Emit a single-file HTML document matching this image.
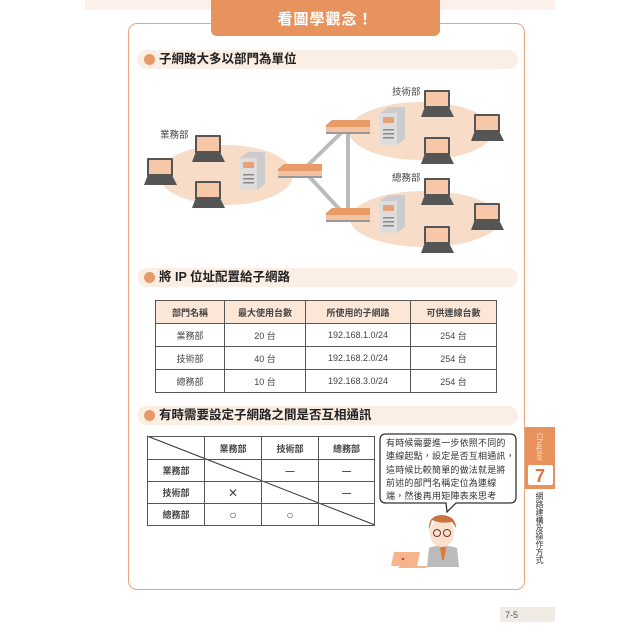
<!DOCTYPE html>
<html><head><meta charset="utf-8"><style>
*{margin:0;padding:0;box-sizing:border-box}
body{width:640px;height:640px;background:#fff;position:relative;overflow:hidden;font-family:"Liberation Sans","Noto Sans CJK TC",sans-serif;color:#333}
.a{position:absolute}
.sec{position:absolute;left:137px;width:381px;height:19px;background:#fbeee4;border-radius:10px;font-size:12.5px;font-weight:bold;line-height:19px;padding-left:22px;color:#222}
.sec:before{content:"";position:absolute;left:7px;top:4px;width:11px;height:11px;border-radius:50%;background:#e89a67}
table{border-collapse:collapse;position:absolute;font-size:9px;color:#444}
td{border:1px solid #555;text-align:center}
</style></head><body>
<div class="a" style="left:85px;top:0;width:470px;height:10px;background:#fbf1ea"></div>
<div class="a" style="left:128px;top:23px;width:397px;height:567px;border:1.5px solid #e8a57e;border-radius:9px"></div>
<div class="a" style="left:211px;top:0;width:229px;height:36px;background:#e8935e;border-radius:0 0 6px 6px;color:#fff;font-size:15px;font-weight:bold;text-align:center;line-height:40px;letter-spacing:1px">看圖學觀念！</div>
<div class="sec" style="top:50px">子網路大多以部門為單位</div>
<div class="sec" style="top:268px">將 IP 位址配置給子網路</div>
<div class="sec" style="top:406px">有時需要設定子網路之間是否互相通訊</div>

<svg class="a" style="left:0;top:0" width="640" height="640">
<defs>
<g id="lp"><rect x="3" y="0" width="26" height="19" fill="#555" rx="1"/><rect x="5" y="2" width="22" height="14" fill="#f6c8a8"/><path d="M3 19 L29 19 L33 27 L0 27 Z" fill="#555"/></g>
<g id="sv"><path d="M0 6 L8 0 L25 0 L25 32 L17 38 L0 38Z" fill="#ccc"/><rect x="0" y="6" width="17" height="32" fill="#ddd"/><rect x="3" y="10" width="11" height="6" fill="#e8a27a"/><rect x="3" y="22" width="11" height="1.5" fill="#888"/><rect x="3" y="26" width="11" height="1.5" fill="#888"/><rect x="3" y="30" width="11" height="1.5" fill="#888"/></g>
<g id="sw"><path d="M0 5 L6 0 L44 0 L44 9 L0 9Z" fill="#e89a67"/><rect x="0" y="7" width="44" height="7" fill="#f3c3a3"/><rect x="0" y="12" width="44" height="2" fill="#999"/></g>
</defs>
<ellipse cx="226" cy="175" rx="67" ry="30" fill="#f7dcc8"/>
<ellipse cx="421" cy="131" rx="72" ry="29" fill="#f7dcc8"/>
<ellipse cx="425" cy="219" rx="75" ry="28" fill="#f7dcc8"/>
<g stroke="#bbb" stroke-width="4"><line x1="305" y1="168" x2="342" y2="132"/><line x1="305" y1="172" x2="342" y2="212"/><line x1="348" y1="132" x2="348" y2="212"/></g>
<use href="#lp" x="144" y="158"/><use href="#lp" x="192" y="135"/><use href="#lp" x="192" y="181"/>
<use href="#lp" x="421" y="90"/><use href="#lp" x="471" y="114"/><use href="#lp" x="421" y="137"/>
<use href="#lp" x="421" y="178"/><use href="#lp" x="471" y="203"/><use href="#lp" x="421" y="226"/>
<use href="#sv" x="240" y="152"/><use href="#sv" x="380" y="107"/><use href="#sv" x="380" y="195"/>
<use href="#sw" x="278" y="164"/><use href="#sw" x="326" y="120"/><use href="#sw" x="326" y="208"/>
<g font-size="9.5" fill="#444" font-family="Liberation Sans,Noto Sans CJK TC,sans-serif"><text x="160" y="138">業務部</text><text x="392" y="95">技術部</text><text x="392" y="181">總務部</text></g>
<line x1="147" y1="436" x2="375" y2="525" stroke="#333" stroke-width="1"/>
<path d="M386 434 H510 Q516 434 516 440 V497 Q516 503 510 503 H456 L447 512 L446 503 H386 Q380 503 380 497 V440 Q380 434 386 434Z" fill="#fff" stroke="#333" stroke-width="1.3"/>
<path d="M394 552 H420 L417 566 H391Z" fill="#f5b48b"/><path d="M400 566 H428 L426 568 H398Z" fill="#f5b48b"/><circle cx="403" cy="559" r="1.3" fill="#c44"/>
<path d="M429 548 Q441 543 457 548 L459 567 H427Z" fill="#bbb"/><path d="M440 548 L443 545 L446 548 L444 560 L442 560Z" fill="#e07a3c"/>
<ellipse cx="442" cy="533" rx="12" ry="14" fill="#fbe0cb"/><path d="M429 530 Q428 515 442 515 Q456 516 456 528 L452 522 Q440 524 432 520 Z" fill="#c9733f"/>
<circle cx="437" cy="533" r="3.5" fill="none" stroke="#733" stroke-width="1"/><circle cx="447" cy="533" r="3.5" fill="none" stroke="#733" stroke-width="1"/>
<rect x="500" y="607" width="55" height="15" fill="#f1ebe6"/><text x="505" y="618" font-size="9" fill="#555">7-5</text>
<rect x="525" y="427" width="30" height="62" fill="#e8935e"/><rect x="528" y="465" width="25" height="20" fill="#fff" rx="2"/>
<text x="540" y="482" font-size="18" font-weight="bold" fill="#d9743e" text-anchor="middle">7</text>
<text transform="translate(537,433) rotate(90)" font-size="8" fill="#fbd9c4">Chapter</text>
</svg>
<div class="a" style="left:534px;top:492px;width:10px;font-size:8px;line-height:9px;color:#333;writing-mode:vertical-rl">網路建構及操作方式</div>

<table style="left:155px;top:300px;width:342px">
<tr style="height:23px;background:#fbe6d8;font-weight:bold"><td style="width:69px">部門名稱</td><td style="width:81px">最大使用台數</td><td style="width:105px">所使用的子網路</td><td>可供連線台數</td></tr>
<tr style="height:23px"><td>業務部</td><td>20 台</td><td>192.168.1.0/24</td><td>254 台</td></tr>
<tr style="height:23px"><td>技術部</td><td>40 台</td><td>192.168.2.0/24</td><td>254 台</td></tr>
<tr style="height:23px"><td>總務部</td><td>10 台</td><td>192.168.3.0/24</td><td>254 台</td></tr>
</table>
<table style="left:147px;top:436px;width:228px;font-weight:bold">
<tr style="height:23px"><td style="width:57px"></td><td style="width:57px">業務部</td><td style="width:57px">技術部</td><td>總務部</td></tr>
<tr style="height:22px"><td>業務部</td><td></td><td>—</td><td>—</td></tr>
<tr style="height:22px"><td>技術部</td><td style="font-weight:normal;font-size:12px">✕</td><td></td><td>—</td></tr>
<tr style="height:22px"><td>總務部</td><td style="font-weight:normal;font-size:12px">○</td><td style="font-weight:normal;font-size:12px">○</td><td></td></tr>
</table>
<div class="a" style="left:386px;top:437px;width:130px;font-size:9px;line-height:13.3px;letter-spacing:0.2px;color:#333;white-space:nowrap">有時候需要進一步依照不同的<br>連線起點，設定是否互相通訊，<br>這時候比較簡單的做法就是將<br>前述的部門名稱定位為連線<br>端，然後再用矩陣表來思考</div>
</body></html>
